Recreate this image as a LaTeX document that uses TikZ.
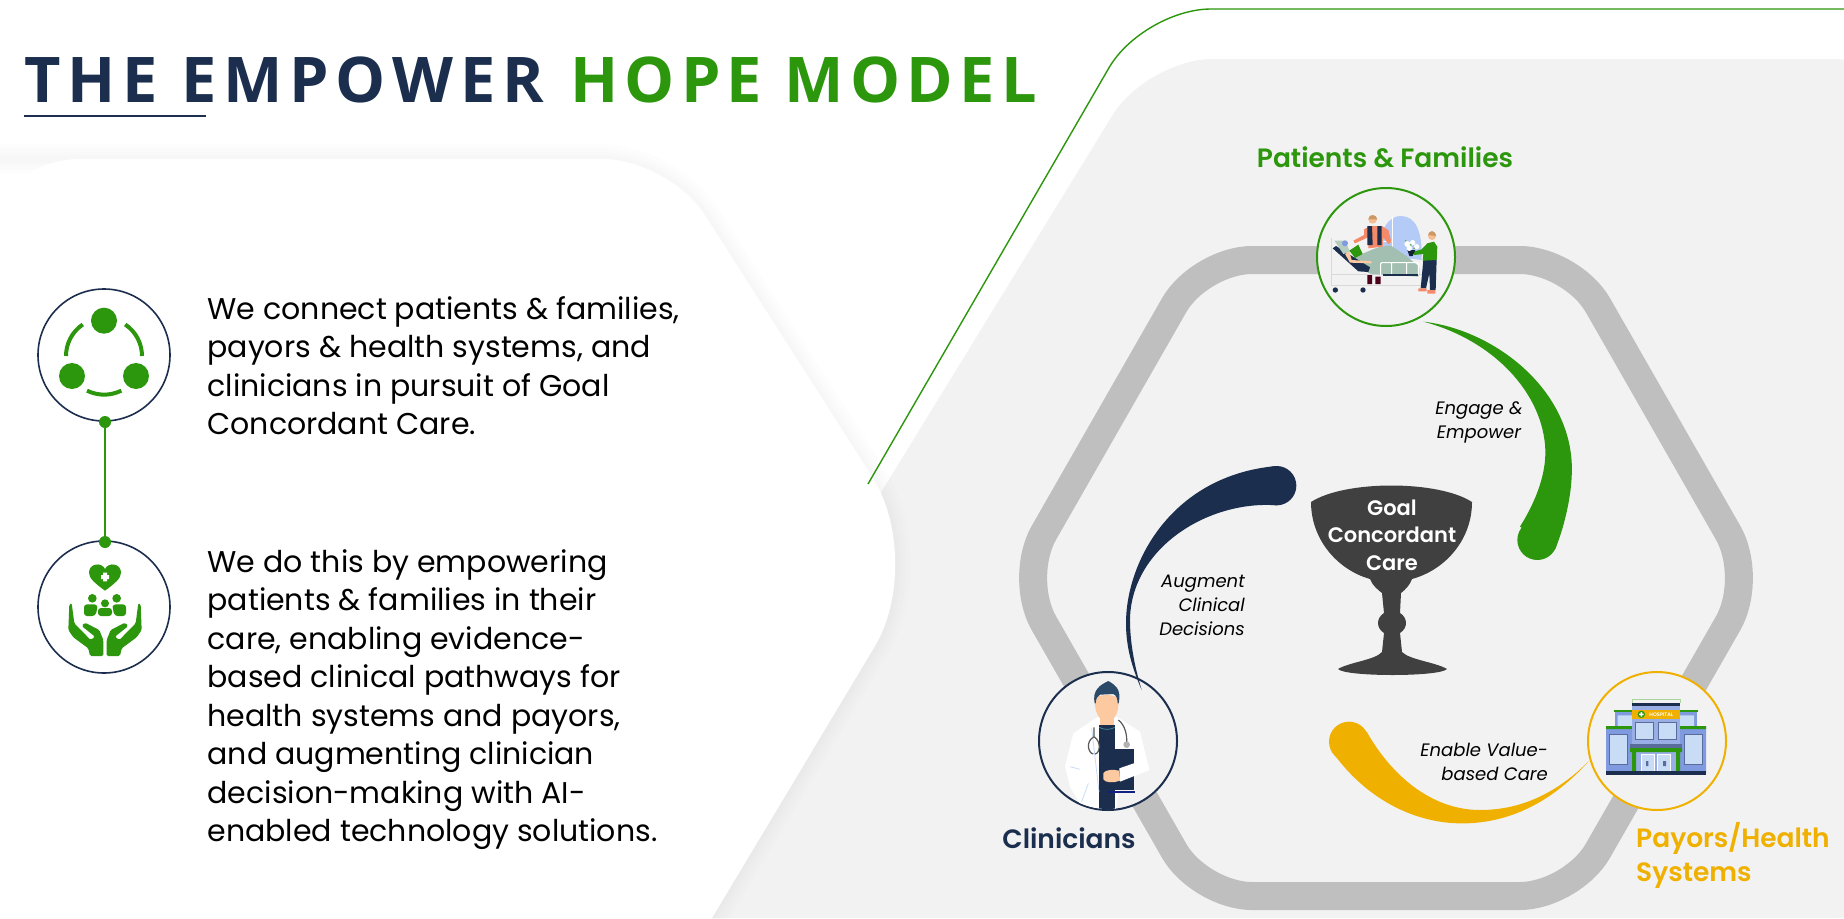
\documentclass[tikz,border=0pt]{standalone}
\usepackage{fontspec}
\setmainfont{Poppins}
\newfontfamily\labelfont{Poppins SemiBold}
\newfontfamily\titlefont[LetterSpace=10.9]{Open Sans}
\newfontfamily\hopefont[LetterSpace=9.9]{Open Sans}
\usepackage{xcolor}
\usetikzlibrary{calc}
\definecolor{navy}{HTML}{1B2E4E}
\definecolor{hopegreen}{HTML}{2C960C}
\definecolor{gold}{HTML}{F0B000}
\definecolor{panelgrey}{HTML}{F2F2F2}
\definecolor{bandgrey}{HTML}{BFBFBF}
\definecolor{cupgrey}{HTML}{404040}
\definecolor{skin}{HTML}{FDC9A0}
\definecolor{wallblue}{HTML}{7F9ADF}
\definecolor{paleblue}{HTML}{C9DCF6}
\definecolor{skyblue}{HTML}{B5CBF7}
\definecolor{hairblue}{HTML}{2A4A68}
\definecolor{sheetgreen}{HTML}{A3BFB2}
\definecolor{vestorange}{HTML}{F58A68}
\tikzset{
  ring/.style={circle,draw=#1,line width=2pt,fill=panelgrey,minimum size=138pt,inner sep=0pt},
  iconring/.style={circle,draw=navy,line width=1.6pt,fill=white,minimum size=132pt,inner sep=0pt},
  dot/.style={circle,fill=hopegreen,minimum size=12pt,inner sep=0pt},
  bodytext/.style={anchor=north west,align=left,text=black,font=\fontsize{30}{38.5}\selectfont},
  tagtext/.style={font=\labelfont\fontsize{26.5}{34}\selectfont},
  swoosh/.style={font=\itshape\fontsize{18}{24}\selectfont,text=black},
}
\begin{document}
\begin{tikzpicture}[x=1pt,y=-1pt]
\useasboundingbox (0,0) rectangle (1844,918);
\fill[white] (0,0) rectangle (1844,918);
% grey panel
\fill[panelgrey,rounded corners=66pt] (1900,59)--(1147,59)--(620,918)--(1900,918)--cycle;
% white panel with its soft edge
\foreach \w in {30,22,14,8}
  \draw[black,opacity=0.007,line width=\w pt] (-20,159) [rounded corners=66pt] --(669,159) [rounded corners=100pt] --(926,561)--(652,1018);
\fill[white] (-20,159) [rounded corners=66pt] --(669,159) [rounded corners=100pt] --(926,561)--(652,1018)--(-20,1018)--cycle;
\draw[hopegreen,line width=1.4pt,rounded corners=68pt] (868,484)--(1143,9)--(1900,9);
% title
\node[anchor=base west,inner sep=0pt,text=navy,font=\titlefont\bfseries\fontsize{63}{70}\selectfont] (titleleft) at (24,102) {THE EMPOWER};
\node[anchor=base west,inner sep=0pt,text=hopegreen,font=\hopefont\bfseries\fontsize{63}{70}\selectfont] (titleright) at (570,102) {HOPE MODEL};
\draw[navy,line width=2pt] (24,116)--(206,116);
% left column
\node[iconring] (iconlinks) at (104,355) {};
\node[iconring] (iconcare) at (104,607) {};
\node[dot] (dotupper) at (105,422) {};
\node[dot] (dotlower) at (105,542) {};
\draw[hopegreen,line width=2pt] (dotupper)--(dotlower);
\begin{scope}[shift={(20,270)},scale=1/3]
\fill[hopegreen] (252,152) circle (39) (156,318) circle (39) (348,318) circle (39);
\draw[hopegreen,line width=4pt] (138,258) arc (180:236:114) (366,258) arc (0:-56:114);
\draw[hopegreen,line width=4pt] (201,362) .. controls (235,378) and (270,378) .. (304,362);
% heart and people
\fill[hopegreen] (255,962) .. controls (225,940) and (207,925) .. (207,908) .. controls (207,880) and (245,875) .. (255,897) .. controls (265,875) and (303,880) .. (303,908) .. controls (303,925) and (285,940) .. (255,962)--cycle;
\fill[white] (249,908) rectangle (261,934) (243,915) rectangle (267,927);
\fill[hopegreen] (217,985) circle (13) (290,985) circle (13) (255,1000) circle (12);
\fill[hopegreen,rounded corners=3pt] (192,1038)--(192,1003)--(232,1003)--(232,1016)--(226,1038)--cycle;
\fill[hopegreen,rounded corners=3pt] (318,1038)--(318,1003)--(278,1003)--(278,1016)--(284,1038)--cycle;
\fill[hopegreen,rounded corners=3pt] (234,1038)--(234,1014)--(276,1014)--(276,1038)--cycle;
\end{scope}
\foreach \sx/\sy in {-1/190,1/20} {
\begin{scope}[shift={(\sy,270)},xscale=\sx/3,yscale=1/3]
\fill[hopegreen,rounded corners=1.5pt] (145,1080)--(148,1003)--(155,999)--(163,1060)--(212,1110)--(225,1100)--(185,1068)--(195,1058)--(238,1080)--(250,1110)--(250,1158)--(210,1158)--(205,1135)--(160,1102)--cycle;
\end{scope}
}
\node[bodytext] (textconnect) at (204,293) {We connect patients \& families,\\payors \& health systems, and\\clinicians in pursuit of Goal\\Concordant Care.};
\node[bodytext] (textempower) at (204,546) {We do this by empowering\\patients \& families in their\\care, enabling evidence-\\based clinical pathways for\\health systems and payors,\\and augmenting clinician\\decision-making with AI-\\enabled technology solutions.};
% hexagon
\draw[bandgrey,line width=28pt,rounded corners=52pt] (1200,260)--(1572,260)--(1754,578)--(1572,896)--(1200,896)--(1018,578)--cycle;
% the cup
\fill[cupgrey] (1311,502) .. controls (1345,480) and (1438,480) .. (1472,502) .. controls (1472,540) and (1445,570) .. (1412,579) .. controls (1410,585) and (1405,590) .. (1401,593)--(1400,613) .. controls (1408,618) and (1408,628) .. (1400,633)--(1402,652) .. controls (1410,660) and (1435,662) .. (1447,669) .. controls (1440,677) and (1345,677) .. (1338,669) .. controls (1350,662) and (1375,660) .. (1382,652)--(1384,633) .. controls (1376,628) and (1376,618) .. (1384,613)--(1382,593) .. controls (1378,590) and (1372,585) .. (1370,579) .. controls (1338,570) and (1311,540) .. (1311,502)--cycle;
\node[text=white,align=center,font=\labelfont\fontsize{21}{27.5}\selectfont] (cuptext) at (1392,535) {Goal\\Concordant\\Care};
% people circles
\node[ring=hopegreen] (family) at (1386,257) {};
\node[ring=navy] (clinician) at (1108,741) {};
\node[ring=gold] (payor) at (1657,741) {};
% patient and family drawing
\begin{scope}[shift={(1290,180)},scale=1/3]
\fill[skyblue] (262,225) .. controls (268,150) and (295,108) .. (332,108) .. controls (375,108) and (398,150) .. (395,240)--cycle;
\draw[white,line width=0.8pt] (308,110)--(308,215) (265,185)--(308,185);
\draw[black!15,line width=1pt] (125,175)--(125,315)--(395,315) (125,283)--(395,283);
\fill[navy] (136,330) circle (8) (219,330) circle (8);
\fill[sheetgreen,rounded corners=2pt] (175,240)--(255,205)--(300,195)--(345,225)--(388,260)--(388,290)--(240,282)--cycle;
\draw[white,line width=1pt,rounded corners=1pt] (272,285)--(272,248)--(385,248)--(385,285) (305,248)--(305,285) (350,248)--(350,285);
\fill[navy] (278,282) rectangle (385,287);
\fill[navy] (128,205)--(138,198)--(240,262)--(235,276)--(205,274)--cycle;
\fill[sheetgreen!80!white] (133,182)--(165,182)--(180,215)--(160,222)--cycle;
\fill[hopegreen] (178,212)--(205,194)--(218,222)--(195,234)--cycle;
\fill[skin] (178,215)--(185,240)--(245,244)--(245,250)--(180,248)--(165,222)--cycle;
\fill[wallblue] (165,190) circle (9);
\fill[black!60!purple] (232,285) rectangle (246,312) (256,290) rectangle (272,312);
\fill[vestorange] (222,148)--(240,138)--(275,138)--(295,150)--(304,186)--(295,192)--(280,172)--(278,200)--(235,205)--(234,172)--(195,190)--(190,182)--(222,165)--cycle;
\fill[navy] (232,138)--(246,138)--(248,195)--(232,195)--cycle (262,138)--(275,138)--(275,195)--(262,195)--cycle;
\fill[skin!85!brown] (248,118) circle (13);
\fill[brown!80!white] (235,118) .. controls (236,100) and (260,102) .. (262,118)--cycle;
\fill[navy] (400,240)--(440,238)--(437,330)--(420,330)--(418,280)--(408,325)--(392,325)--cycle;
\fill[hopegreen] (412,190)--(432,185)--(442,200)--(440,240)--(398,242)--(400,222)--(372,225)--(372,215)--(395,208)--cycle;
\fill[skin!85!brown] (426,168) circle (12);
\fill[brown!80!white] (414,165) .. controls (416,150) and (436,148) .. (438,168)--cycle;
\fill[vestorange] (385,325) rectangle (410,334) (412,330) rectangle (436,341);
\fill[navy!70!black] (352,210)--(376,210)--(368,228)--(358,228)--cycle;
\fill[white] (352,192) circle (9) (368,188) circle (8) (380,200) circle (8) (358,205) circle (8);
\fill[hopegreen!70!white] (347,182) circle (3) (372,205) circle (3) (362,194) circle (3);
\end{scope}
% doctor drawing
\begin{scope}[shift={(1020,670)},scale=1/3]
\clip (263,212) circle (205);
\fill[white] (135,290)--(160,190)--(235,140)--(290,140)--(360,185)--(388,300)--(300,335)--(288,420)--(190,420)--(150,350)--cycle;
\fill[navy] (237,165) rectangle (285,420);
\draw[paleblue,line width=0.8pt] (215,175)--(237,365) (150,290)--(180,298) (205,340)--(185,395);
\fill[skin] (240,125) rectangle (282,165);
\fill[skin] (224,90) .. controls (224,140) and (245,154) .. (260,154) .. controls (278,154) and (296,140) .. (296,90) .. controls (296,70) and (224,70) .. (224,90)--cycle;
\fill[hairblue] (224,100) .. controls (216,60) and (240,45) .. (265,33) .. controls (285,45) and (305,55) .. (296,100)--(293,100) .. controls (293,85) and (288,75) .. (280,72)--(240,74) .. controls (232,78) and (228,85) .. (227,100)--cycle;
\fill[white] (236,140)--(212,172)--(236,178)--cycle (288,140)--(305,175)--(285,178)--cycle;
\draw[teal!70!white,line width=0.6pt] (238,172) .. controls (250,180) and (272,180) .. (284,172);
\draw[black!65,line width=1.2pt] (222,172)--(222,200) .. controls (195,215) and (205,250) .. (220,252) (222,200) .. controls (245,215) and (240,250) .. (225,252);
\draw[black!65,line width=1.2pt] (295,150) .. controls (315,165) and (322,195) .. (320,222);
\fill[black!30] (320,224) circle (10);
\fill[navy] (237,238)--(342,238)--(342,360)--(237,360)--cycle;
\fill[navy!70!blue] (262,362) rectangle (345,369);
\fill[white] (298,295)--(370,270)--(362,205)--(388,300)--(300,335)--cycle;
\fill[skin] (250,310) .. controls (255,298) and (280,298) .. (298,302)--(300,332) .. controls (280,340) and (255,338) .. (250,328)--cycle;
\end{scope}
% hospital drawing
\begin{scope}[shift={(1570,660)},scale=1/3]
\fill[wallblue] (135,155) rectangle (381,200);
\fill[hopegreen] (132,150) rectangle (384,156);
\fill[paleblue] (143,166) rectangle (186,198) (330,166) rectangle (372,198);
\fill[wallblue] (108,200) rectangle (186,340) (330,200) rectangle (408,340);
\fill[hopegreen] (108,198) rectangle (186,207) (330,198) rectangle (408,207);
\fill[wallblue!80!white] (186,128) rectangle (330,340);
\draw[hopegreen!40!white,line width=0.5pt] (186,128)--(186,118)--(330,118)--(330,128);
\fill[navy] (186,128) rectangle (330,138);
\fill[gold] (186,150) rectangle (330,178);
\fill[hopegreen] (214,163) circle (11);
\fill[white] (212,156) rectangle (216,170) (207,161) rectangle (221,165);
\node[text=white,font=\labelfont\fontsize{5}{6}\selectfont,inner sep=0pt] (hospitalsign) at (274,163) {HOSPITAL};
\foreach \xa/\ya/\xb/\yb in {196/187/251/239,265/187/320/239,118/223/173/314,343/223/398/314}
  \draw[wallblue!70!black,fill=paleblue,line width=0.7pt] (\xa,\ya) rectangle (\xb,\yb);
\fill[wallblue!70!black] (180,252) rectangle (336,264);
\fill[hopegreen] (180,264) rectangle (336,276) (186,276) rectangle (198,333) (318,276) rectangle (330,333);
\draw[white,fill=paleblue,line width=0.5pt] (213,283) rectangle (253,333) (262,283) rectangle (302,333);
\fill[wallblue!70!black] (228,303) rectangle (235,318) (279,303) rectangle (288,318);
\fill[navy] (108,333) rectangle (408,345);
\end{scope}
% curved strokes
\begin{scope}[shift={(1420,310)},scale=1/3]
\fill[hopegreen] (352,690) circle (60);
\fill[hopegreen] (10,35) .. controls (230,60) and (470,250) .. (455,500) .. controls (452,570) and (430,660) .. (405,718)--(300,650) .. controls (350,570) and (378,490) .. (376,420) .. controls (370,250) and (220,90) .. (10,35)--cycle;
\end{scope}
\begin{scope}[shift={(1000,450)},scale=1/3]
\fill[navy] (830,107) circle (59);
\fill[navy] (425,720) .. controls (395,650) and (378,590) .. (378,520) .. controls (378,330) and (520,75) .. (830,48)--(830,166) .. controls (620,150) and (385,300) .. (390,520) .. controls (392,600) and (410,670) .. (425,720)--cycle;
\end{scope}
\begin{scope}[shift={(1320,710)},scale=1/3]
\fill[gold] (87,95) circle (60);
\fill[gold] (33,120) .. controls (130,260) and (280,345) .. (440,340) .. controls (600,335) and (720,250) .. (808,152) .. controls (700,260) and (590,300) .. (480,300) .. controls (330,300) and (210,190) .. (140,65)--cycle;
\end{scope}
% labels
\node[tagtext,text=hopegreen] (familytext) at (1385,157) {Patients \& Families};
\node[tagtext,text=navy] (clinictext) at (1069,838) {Clinicians};
\node[tagtext,text=gold,align=left,anchor=west,inner sep=0pt] (payortext) at (1636,855) {Payors/Health\\Systems};
\node[swoosh,align=center] (engagetext) at (1479,422) {Engage \&\\Empower};
\node[swoosh,align=right,anchor=east,inner sep=0pt] (augmenttext) at (1245,605) {Augment\\Clinical\\Decisions};
\node[swoosh,align=right,anchor=east,inner sep=0pt] (enabletext) at (1548,762) {Enable Value-\\based Care};
\end{tikzpicture}
\end{document}
